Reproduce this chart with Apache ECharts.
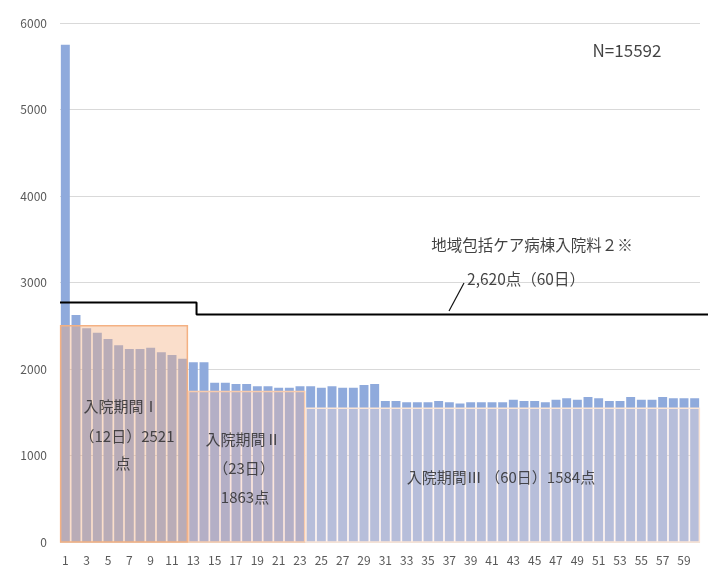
<!DOCTYPE html>
<html><head><meta charset="utf-8">
<script src="https://cdn.jsdelivr.net/npm/echarts@6/dist/echarts.min.js"></script>
<style>html,body{margin:0;padding:0;background:#fff}#c{width:708px;height:570px}</style>
</head><body><div id="c"></div>
<script>
const days = Array.from({length: 60}, (_, i) => String(i + 1));
const values = [5750, 2625, 2470, 2420, 2347, 2274, 2231, 2231, 2246, 2193,
  2162, 2119, 2077, 2077, 1842, 1842, 1827, 1827, 1800, 1800,
  1784, 1784, 1800, 1802, 1784, 1802, 1784, 1784, 1815, 1828,
  1630, 1630, 1615, 1615, 1615, 1630, 1615, 1600, 1615, 1615,
  1615, 1615, 1645, 1630, 1630, 1615, 1645, 1661, 1645, 1676,
  1661, 1630, 1630, 1676, 1645, 1645, 1676, 1661, 1661, 1661];
const periodStart = [1, 13, 24];
const periodEnd = [12, 23, 60];
const periodHeight = [2500, 1740, 1545];
const stepX = [0, 12.8, 12.8, 60.75];
const stepY = [2770, 2770, 2630, 2630];
const yTicks = {min: 0, max: 6000, interval: 1000};
const annotationTexts = ['N=15592', '地域包括ケア病棟入院料２※', '2,620点（60日）',
  '入院期間Ⅰ', '（12日）2521', '点', '入院期間Ⅱ', '（23日）', '1863点', '入院期間Ⅲ （60日）1584点'];

// layout / style (pixel positions of annotation text centres)
const annotationPos = [[627, 51], [532, 245], [526, 279], [121, 406], [127, 436], [123, 463],
  [243, 439], [244, 468], [245, 497], [501, 477]];
const annotationSize = [17, 15.5, 15.5, 15, 15, 15, 15, 15, 15, 15];
const leaderPx = [[449, 311], [464, 283]];
const periodFill = ['rgba(244,177,131,0.42)', 'rgba(246,187,160,0.36)', 'rgba(255,226,216,0.36)'];
const periodStroke = ['#f4b183', '#f8cbad', '#fbe5d6'];

const FONT = '"Noto Sans CJK JP", "Noto Sans", sans-serif';
const chart = echarts.init(document.getElementById('c'));
const hidden = () => ({show: false});

chart.setOption({
  animation: false,
  grid: [{left: 60, right: 8, top: 23, bottom: 28}, {left: 60, right: 0, top: 23, bottom: 28}],
  xAxis: [{
    type: 'category', data: days, gridIndex: 0,
    axisLine: {show: false}, axisTick: {show: false}, splitLine: {show: false},
    axisLabel: {interval: 1, color: '#595959', fontSize: 12, fontFamily: FONT, margin: 12}
  }, Object.assign({type: 'value', min: 0, max: 60.75, gridIndex: 1}, hidden())],
  yAxis: [{
    type: 'value', min: yTicks.min, max: yTicks.max, interval: yTicks.interval, gridIndex: 0,
    axisLine: {show: false}, axisTick: {show: false},
    axisLabel: {color: '#595959', fontSize: 12, fontFamily: FONT, margin: 13, formatter: v => String(v)},
    splitLine: {lineStyle: {color: '#d9d9d9', width: 1}}
  }, Object.assign({type: 'value', min: yTicks.min, max: yTicks.max, interval: yTicks.interval, gridIndex: 1}, hidden())],
  series: [{
    type: 'bar', data: values, xAxisIndex: 0, yAxisIndex: 0,
    barCategoryGap: '16%',
    itemStyle: {color: '#8faadc'},
    z: 2
  }, {
    type: 'custom', xAxisIndex: 0, yAxisIndex: 0, z: 5,
    dimensions: ['s', 'e', 'v'],
    encode: {x: [0, 1], y: 2},
    data: periodStart.map((s, i) => [s - 1, periodEnd[i] - 1, periodHeight[i]]),
    renderItem: function (params, api) {
      const s = api.value(0), e = api.value(1), v = api.value(2);
      const p0 = api.coord([s, v]);
      const p1 = api.coord([e, 0]);
      const bw = api.size([1, 0])[0];
      const x0 = p0[0] - bw * 0.44, x1 = p1[0] + bw * 0.44;
      return {type: 'rect', shape: {x: x0, y: p0[1], width: x1 - x0, height: p1[1] - p0[1]},
        style: {fill: periodFill[params.dataIndex], stroke: periodStroke[params.dataIndex], lineWidth: 1.5}};
    }
  }, {
    type: 'line', xAxisIndex: 1, yAxisIndex: 1, z: 10,
    data: stepX.map((x, i) => [x, stepY[i]]),
    symbol: 'none', lineStyle: {color: '#000', width: 2}
  }]
});

const toData = p => chart.convertFromPixel({gridIndex: 1}, p);
const leader = leaderPx.map(toData);
chart.setOption({
  series: [{}, {}, {}, {
    type: 'custom', xAxisIndex: 1, yAxisIndex: 1, z: 20, clip: false, silent: true,
    data: [[leader[0][0], leader[0][1], leader[1][0], leader[1][1]]],
    renderItem: function (params, api) {
      const a = api.coord([api.value(0), api.value(1)]);
      const b = api.coord([api.value(2), api.value(3)]);
      return {type: 'line', shape: {x1: a[0], y1: a[1], x2: b[0], y2: b[1]},
        style: {stroke: '#111', lineWidth: 1.2}};
    }
  }, {
    type: 'scatter', xAxisIndex: 1, yAxisIndex: 1, z: 30, clip: false, symbolSize: 0,
    silent: true,
    data: annotationTexts.map((t, i) => ({
      value: toData(annotationPos[i]),
      label: {show: true, position: 'inside', formatter: t, fontSize: annotationSize[i],
        fontFamily: FONT, color: i < 3 ? '#111' : '#262626'}
    }))
  }]
});
</script></body></html>
